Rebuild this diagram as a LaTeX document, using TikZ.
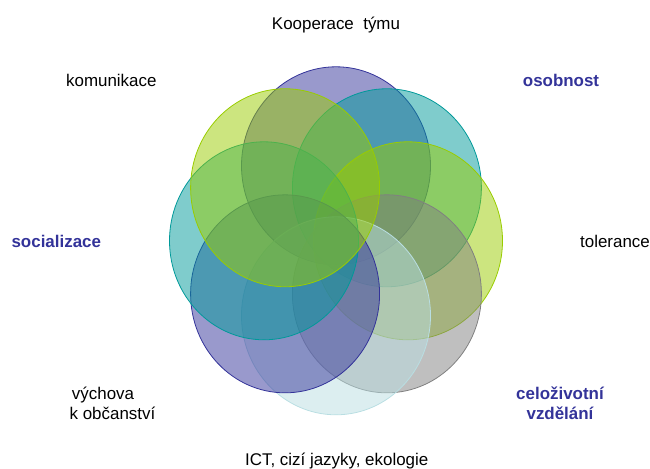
\documentclass[tikz,border=0pt]{standalone}
\usepackage{fontspec}
\setmainfont{Liberation Sans}
\usepackage{tikz}
\usetikzlibrary{positioning}

\definecolor{ringpurple}{HTML}{333399}
\definecolor{ringteal}{HTML}{009999}
\definecolor{ringgreen}{HTML}{99CC00}
\definecolor{ringgray}{HTML}{808080}
\definecolor{ringcyan}{HTML}{B9DEE2}
\definecolor{labelblue}{HTML}{333399}

\tikzset{
  ring/.style={draw=#1, fill=#1, fill opacity=0.5, line width=0.8bp},
  plainlabel/.style={font=\fontsize{17}{20.5}\selectfont, inner sep=0pt, anchor=base, align=center},
  boldlabel/.style={plainlabel, font=\fontsize{17}{20.5}\selectfont\bfseries, text=labelblue}
}

\begin{document}
\begin{tikzpicture}[x=1bp, y=1bp]
  % Invisible frame with the size of the slide
  \useasboundingbox (0,0) rectangle (650,469);

  % ----- Ring of eight overlapping ellipses, clockwise from the top -----
  \begin{scope}[shift={(336,228.2)}]
    \foreach \ang/\col in {90/ringpurple, 45/ringteal, 0/ringgreen, -45/ringgray,
                          -90/ringcyan, -135/ringpurple, 180/ringteal, 135/ringgreen}
      \draw[ring=\col] (\ang:72 and 75) ellipse (94.5 and 99);
  \end{scope}

  % ----- Labels round the ring -----
  \node[plainlabel] (kooperace) at (336,439.7) {Kooperace\ \ týmu};
  \node[plainlabel] (komunikace) at (111.3,382.5) {komunikace};
  \node[boldlabel] (osobnost) at (561,382.5) {osobnost};
  \node[boldlabel] (socializace) at (56.3,221) {socializace};
  \node[plainlabel] (tolerance) at (615,221) {tolerance};
  % two-line labels: base is the last line
  \node[plainlabel] (vychova) at (112.5,49.2) {výchova\hspace*{19bp}\\k občanství};
  \node[boldlabel] (celozivotni) at (560,49.5) {celoživotní\\vzdělání};
  \node[plainlabel] (ict) at (336.7,3.5) {ICT, cizí jazyky, ekologie};
\end{tikzpicture}
\end{document}
